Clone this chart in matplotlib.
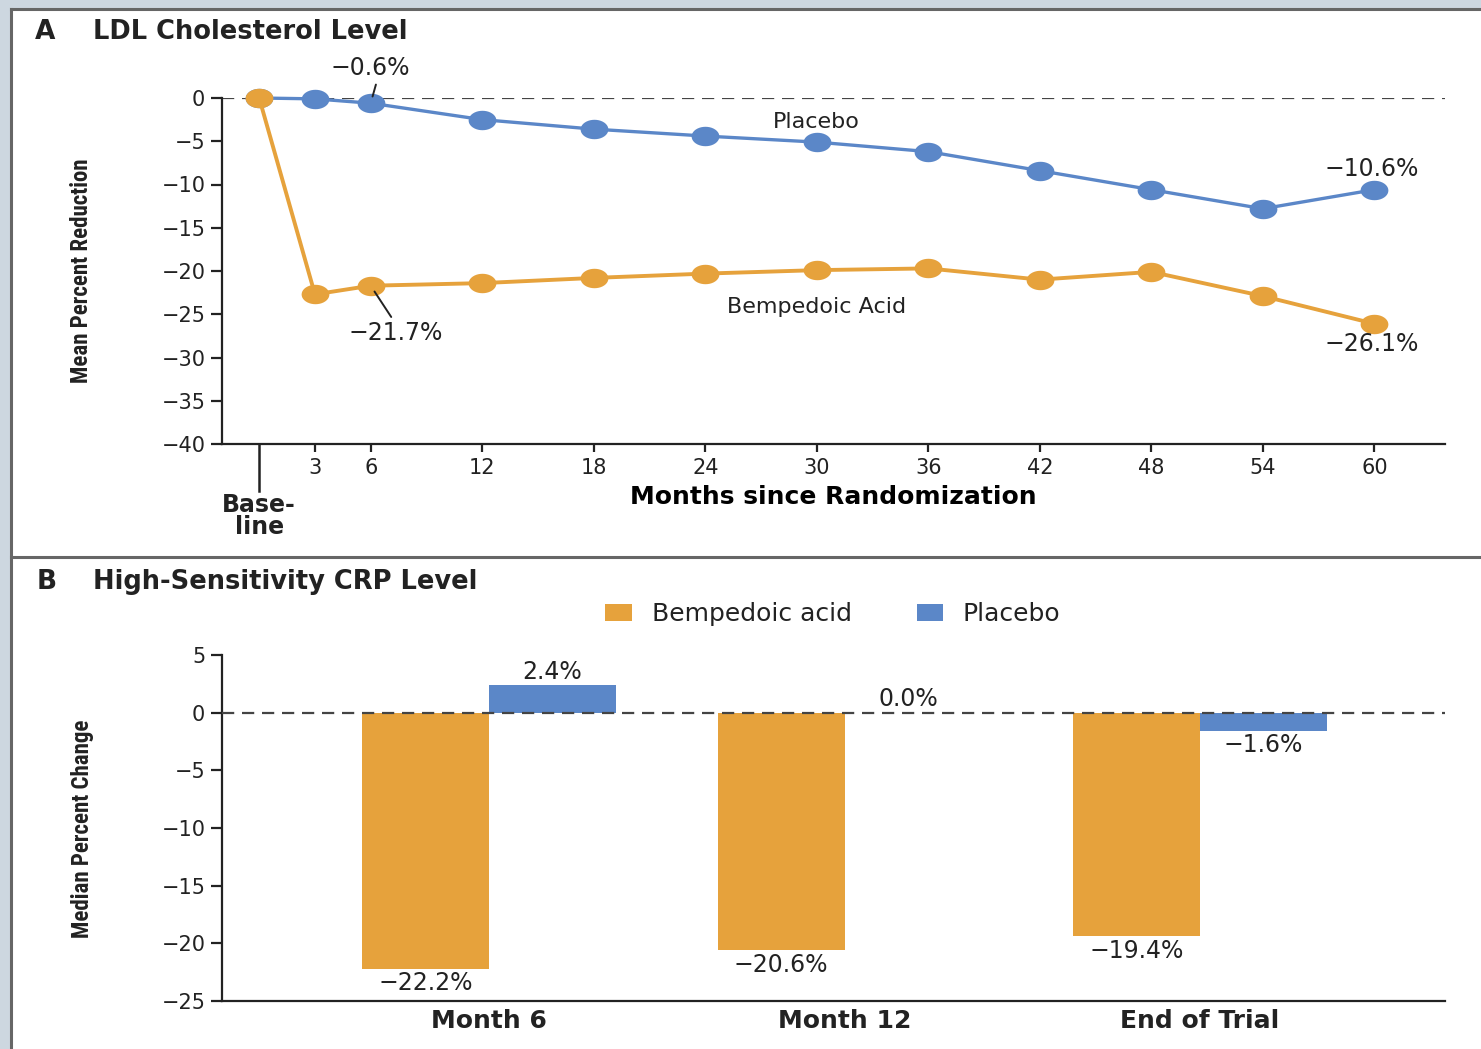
import matplotlib

matplotlib.use("Agg")

import matplotlib.pyplot as plt
import numpy as np
from matplotlib import font_manager
from matplotlib.lines import Line2D
from matplotlib.patches import Patch, Rectangle
from matplotlib.path import Path

# Panel A: LDL cholesterol, mean percent change by visit
MONTHS = [0, 3, 6, 12, 18, 24, 30, 36, 42, 48, 54, 60]
PLACEBO_LDL = [0.0, -0.1, -0.6, -2.5, -3.6, -4.4, -5.1, -6.2, -8.4, -10.6, -12.8, -10.6]
BEMPEDOIC_LDL = [0.0, -22.7, -21.7, -21.4, -20.8, -20.3, -19.9, -19.7, -21.0, -20.1, -22.9, -26.1]
MONTH_TICKS = [3, 6, 12, 18, 24, 30, 36, 42, 48, 54, 60]
LDL_YTICKS = [0, -5, -10, -15, -20, -25, -30, -35, -40]

# Panel B: high-sensitivity CRP, median percent change
CRP_GROUPS = ["Month 6", "Month 12", "End of Trial"]
BEMPEDOIC_CRP = [-22.2, -20.6, -19.4]
PLACEBO_CRP = [2.4, 0.0, -1.6]
CRP_YTICKS = [5, 0, -5, -10, -15, -20, -25]

BLUE = "#5b87c8"
ORANGE = "#e6a23c"
INK = "#222222"
FRAME_BG = "#cdd7e0"
BORDER = "#666666"

W, H = 1481, 1049


def fx(px):
    return px / W


def fy(py):
    return 1 - py / H


def pct(v):
    return f"{v:.1f}%".replace("-", "\u2212")


# pick a condensed face for the y labels if one is around
installed = {f.name for f in font_manager.fontManager.ttflist}
narrow = next((n for n in ["DejaVu Sans Condensed", "Liberation Sans Narrow", "Roboto Condensed"]
               if n in installed), "DejaVu Sans")
narrow_size = 16.5 if narrow != "DejaVu Sans" else 14

# horizontally stretched dot used for the line markers
theta = np.linspace(0, 2 * np.pi, 41)
ELLIPSE = Path(np.column_stack([np.cos(theta), 0.7 * np.sin(theta)]), closed=True)

plt.rcParams["font.family"] = "DejaVu Sans"
plt.rcParams["text.color"] = INK
plt.rcParams["axes.edgecolor"] = INK
plt.rcParams["xtick.color"] = INK
plt.rcParams["ytick.color"] = INK

fig = plt.figure(figsize=(W / 100, H / 100), dpi=100)
fig.patch.set_facecolor(FRAME_BG)

# white page with dark rule on the left/top and a divider between panels
fig.patches.append(Rectangle((fx(11), 0), 1, fy(9), transform=fig.transFigure,
                             facecolor="white", edgecolor="none", zorder=-10))
fig.add_artist(Line2D([fx(11), fx(11)], [0, fy(9)], color=BORDER, lw=2.2))
fig.add_artist(Line2D([fx(11), 1], [fy(9), fy(9)], color=BORDER, lw=2.2))
fig.add_artist(Line2D([fx(11), 1], [fy(557), fy(557)], color=BORDER, lw=2.2))

DASH = dict(color="#444444", lw=1.6, ls=(0, (5.5, 3.5)))

# ---------------- Panel A ----------------
axA = fig.add_axes([fx(222), fy(444), fx(1445) - fx(222), fy(98) - fy(444)])
axA.set_facecolor("none")
axA.set_xlim(-2.0, 63.8)
axA.set_ylim(-40, 0)
for s in ["top", "right"]:
    axA.spines[s].set_visible(False)
axA.spines["left"].set_linewidth(1.6)
axA.spines["bottom"].set_linewidth(1.6)

axA.axhline(0, zorder=1, **DASH)
axA.plot(MONTHS, PLACEBO_LDL, color=BLUE, lw=2.4, marker=ELLIPSE, ms=20,
         mec="none", zorder=3, clip_on=False)
axA.plot(MONTHS, BEMPEDOIC_LDL, color=ORANGE, lw=2.8, marker=ELLIPSE, ms=20,
         mec="none", zorder=3, clip_on=False)

axA.set_yticks(LDL_YTICKS)
axA.set_yticklabels([str(v).replace("-", "\u2212") for v in LDL_YTICKS])
axA.tick_params(axis="y", length=8, width=1.6, pad=4, labelsize=15)
axA.set_xticks(MONTH_TICKS)
axA.tick_params(axis="x", length=6, width=1.6, pad=4, labelsize=15)
# long baseline tick at month 0
axA.plot([0, 0], [0, -0.135], transform=axA.get_xaxis_transform(), color=INK,
         lw=1.8, clip_on=False)
axA.text(0, -0.142, "Base-\nline", transform=axA.get_xaxis_transform(), ha="center",
         va="top", fontsize=17, fontweight="bold", linespacing=0.9)
axA.set_xlabel("Months since Randomization", fontsize=18, fontweight="bold", labelpad=5)
fig.text(fx(82), fy(271), "Mean Percent Reduction", rotation=90, ha="center",
         va="center", fontsize=narrow_size, family=narrow, fontweight="bold")

axA.text(30, -2.8, "Placebo", ha="center", va="center", fontsize=16)
axA.text(30, -24.2, "Bempedoic Acid", ha="center", va="center", fontsize=16)

line_kw = dict(arrowstyle="-", color=INK, lw=1.4, shrinkA=1, shrinkB=5)
axA.annotate(pct(PLACEBO_LDL[2]), xy=(MONTHS[2], PLACEBO_LDL[2]), xytext=(0, 25),
             textcoords="offset points", ha="center", va="center", fontsize=17,
             annotation_clip=False,
             arrowprops=dict(relpos=(0.58, 0.0), **line_kw))
axA.annotate(pct(BEMPEDOIC_LDL[2]), xy=(MONTHS[2], BEMPEDOIC_LDL[2]), xytext=(18, -34),
             textcoords="offset points", ha="center", va="center", fontsize=17,
             annotation_clip=False,
             arrowprops=dict(relpos=(0.48, 1.0), **line_kw))
axA.annotate(pct(PLACEBO_LDL[-1]), xy=(MONTHS[-1], PLACEBO_LDL[-1]), xytext=(-2, 15),
             textcoords="offset points", ha="center", va="center", fontsize=17,
             annotation_clip=False)
axA.annotate(pct(BEMPEDOIC_LDL[-1]), xy=(MONTHS[-1], BEMPEDOIC_LDL[-1]), xytext=(-2, -14.5),
             textcoords="offset points", ha="center", va="center", fontsize=17,
             annotation_clip=False)

fig.text(fx(35), fy(32), "A", ha="left", va="center", fontsize=19, fontweight="bold")
fig.text(fx(93), fy(32), "LDL Cholesterol Level", ha="left", va="center",
         fontsize=18.5, fontweight="bold")

# ---------------- Panel B ----------------
axB = fig.add_axes([fx(222), fy(1001), fx(1445) - fx(222), fy(655) - fy(1001)])
axB.set_facecolor("none")
x = np.arange(len(CRP_GROUPS))
bw = 0.357
axB.set_xlim(-0.751, 2.689)
axB.set_ylim(-25, 5)
for s in ["top", "right"]:
    axB.spines[s].set_visible(False)
axB.spines["left"].set_linewidth(1.6)
axB.spines["bottom"].set_linewidth(1.6)

axB.bar(x - bw / 2, BEMPEDOIC_CRP, width=bw, color=ORANGE, zorder=2)
axB.bar(x + bw / 2, PLACEBO_CRP, width=bw, color=BLUE, zorder=2)
axB.axhline(0, zorder=3, **DASH)

for xi, v in zip(x - bw / 2, BEMPEDOIC_CRP):
    axB.annotate(pct(v), xy=(xi, v), xytext=(0, -2), textcoords="offset points",
                 ha="center", va="top", fontsize=17)
for xi, v in zip(x + bw / 2, PLACEBO_CRP):
    if v < 0:
        axB.annotate(pct(v), xy=(xi, v), xytext=(0, -1), textcoords="offset points",
                     ha="center", va="top", fontsize=17)
    else:
        axB.annotate(pct(v), xy=(xi, v), xytext=(0, 1), textcoords="offset points",
                     ha="center", va="bottom", fontsize=17)

axB.set_yticks(CRP_YTICKS)
axB.set_yticklabels([str(v).replace("-", "\u2212") for v in CRP_YTICKS])
axB.tick_params(axis="y", length=8, width=1.6, pad=4, labelsize=15)
axB.set_xticks(x)
axB.set_xticklabels(CRP_GROUPS, fontsize=18, fontweight="bold")
axB.tick_params(axis="x", length=0, pad=6)
fig.text(fx(82), fy(829), "Median Percent Change", rotation=90, ha="center",
         va="center", fontsize=narrow_size, family=narrow, fontweight="bold")

handles = [Patch(facecolor=ORANGE, label="Bempedoic acid"),
           Patch(facecolor=BLUE, label="Placebo")]
fig.legend(handles=handles, loc="center", bbox_to_anchor=(fx(833), fy(614)), ncol=2,
           frameon=False, fontsize=18, handlelength=1.05, handleheight=0.65,
           columnspacing=2.6, handletextpad=0.8)

fig.text(fx(37), fy(582), "B", ha="left", va="center", fontsize=19, fontweight="bold")
fig.text(fx(93), fy(582), "High-Sensitivity CRP Level", ha="left", va="center",
         fontsize=18.5, fontweight="bold")

fig.savefig("out.png", dpi=100, facecolor=fig.get_facecolor())
